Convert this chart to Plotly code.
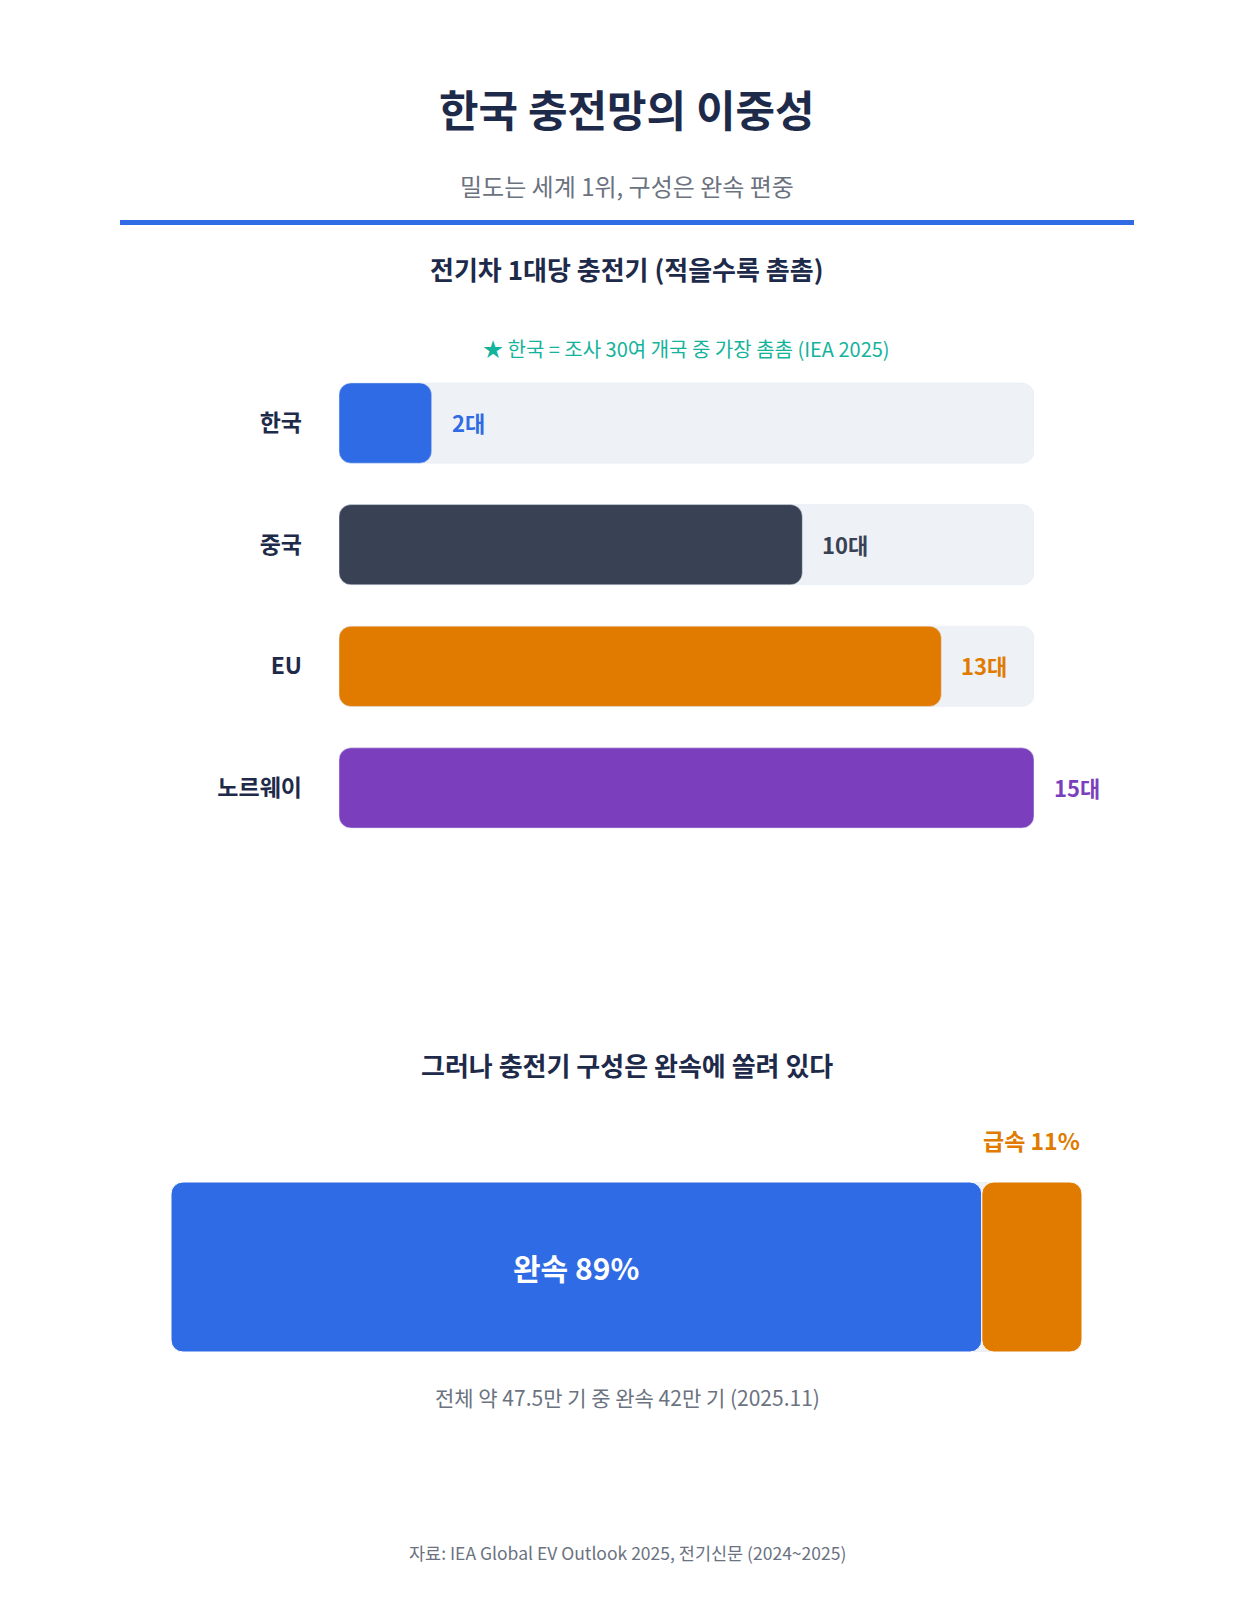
import plotly.graph_objects as go

# ---------------- data ----------------
regions = ["한국", "중국", "EU", "노르웨이"]
chargers_per_ev = [2, 10, 13, 15]
value_unit = "대"

mix_labels = ["완속", "급속"]
mix_shares = [89, 11]

# ---------------- styles ----------------
W, H = 1254, 1614
FONT = "Noto Sans CJK KR"
NAVY = "#1e2a4a"
GRAY = "#6b7280"
TRACK = "#eef1f6"
BLUE = "#2f6be4"
region_colors = [BLUE, "#394255", "#e07b00", "#7b3fbe"]
mix_colors = [BLUE, "#e07b00"]
RADIUS = 12


def py(px):
    return 1 - px / H


def pxx(px):
    return px / W


fig = go.Figure()

# ---- chart 1: chargers per EV ----
# (bars with an explicit base are rounded on both ends)
track_max = max(chargers_per_ev)
n = len(regions)
fig.add_trace(go.Bar(
    y=regions, x=[track_max] * n, base=[0] * n, orientation="h", width=0.66,
    marker=dict(color=TRACK, cornerradius=RADIUS),
    xaxis="x", yaxis="y", hoverinfo="skip", showlegend=False))
fig.add_trace(go.Bar(
    y=regions, x=chargers_per_ev, base=[0] * n, orientation="h", width=0.66,
    marker=dict(color=region_colors, cornerradius=RADIUS),
    xaxis="x", yaxis="y", hoverinfo="skip", showlegend=False))

annotations = []
for r, v, c in zip(regions, chargers_per_ev, region_colors):
    annotations.append(dict(
        x=v, y=r, xref="x", yref="y", xanchor="left", yanchor="middle",
        xshift=18, yshift=1, text=f"<b>{v}{value_unit}</b>", showarrow=False,
        font=dict(family=FONT, size=22, color=c)))

# ---- chart 2: slow vs fast mix ----
total = sum(mix_shares)
fig.add_trace(go.Bar(
    y=[0], x=[total], base=[0], orientation="h", width=1,
    marker=dict(color=TRACK, cornerradius=RADIUS),
    xaxis="x2", yaxis="y2", hoverinfo="skip", showlegend=False))
base = 0
for lab, s, c in zip(mix_labels, mix_shares, mix_colors):
    fig.add_trace(go.Bar(
        y=[0], x=[s], base=[base], orientation="h", width=1, name=lab,
        marker=dict(color=c, cornerradius=RADIUS,
                    line=dict(color="white", width=1)),
        xaxis="x2", yaxis="y2", hoverinfo="skip", showlegend=False))
    base += s

annotations.append(dict(
    x=mix_shares[0] / 2, y=0, xref="x2", yref="y2",
    text=f"<b>{mix_labels[0]} {mix_shares[0]}%</b>", showarrow=False,
    font=dict(family=FONT, size=30, color="white")))
annotations.append(dict(
    x=total, y=0.5, xref="x2", yref="y2", xanchor="right", yanchor="bottom",
    yshift=23, text=f"<b>{mix_labels[1]} {mix_shares[1]}%</b>", showarrow=False,
    font=dict(family=FONT, size=23, color=mix_colors[1])))


# ---- texts ----
def text(t, ycenter, size, color, bold=False, x=0.5):
    annotations.append(dict(
        x=x, y=py(ycenter), xref="paper", yref="paper", xanchor="center",
        yanchor="middle", showarrow=False,
        text=f"<b>{t}</b>" if bold else t,
        font=dict(family=FONT, size=size, color=color)))


text("한국 충전망의 이중성", 108, 43, NAVY, bold=True)
text("밀도는 세계 1위, 구성은 완속 편중", 185, 24, GRAY)
text("전기차 1대당 충전기 (적을수록 촘촘)", 269, 26, NAVY, bold=True)
text("★ 한국 = 조사 30여 개국 중 가장 촘촘 (IEA 2025)", 349, 20, "#14b39b",
     x=pxx((339 + 1034) / 2))
text("그러나 충전기 구성은 완속에 쏠려 있다", 1064, 26, NAVY, bold=True)
text("전체 약 47.5만 기 중 완속 42만 기 (2025.11)", 1397, 21, GRAY)
text("자료: IEA Global EV Outlook 2025, 전기신문 (2024~2025)", 1552, 17.5, GRAY)

fig.update_layout(
    width=W, height=H,
    margin=dict(l=0, r=0, t=0, b=0),
    paper_bgcolor="white", plot_bgcolor="white",
    barmode="overlay",
    showlegend=False,
    font=dict(family=FONT),
    annotations=annotations,
    shapes=[dict(type="rect", xref="paper", yref="paper",
                 x0=pxx(120), x1=pxx(1134), y0=py(225), y1=py(220),
                 fillcolor=BLUE, line=dict(width=0))],
    xaxis=dict(domain=[pxx(339), pxx(1034)], range=[0, track_max],
               visible=False, fixedrange=True),
    yaxis=dict(domain=[py(848.75), py(362.25)], type="category",
               categoryorder="array", categoryarray=regions,
               range=[n - 0.5, -0.5],
               showgrid=False, zeroline=False, showline=False, ticks="",
               ticklabelstandoff=36,
               tickfont=dict(family=FONT, size=23, color=NAVY, weight="bold"),
               fixedrange=True),
    xaxis2=dict(domain=[pxx(171), pxx(1082)], range=[0, total],
                visible=False, fixedrange=True),
    yaxis2=dict(domain=[py(1352), py(1182)], range=[-0.5, 0.5],
                visible=False, fixedrange=True),
)

fig.write_html("out.html", config={"displayModeBar": False})
